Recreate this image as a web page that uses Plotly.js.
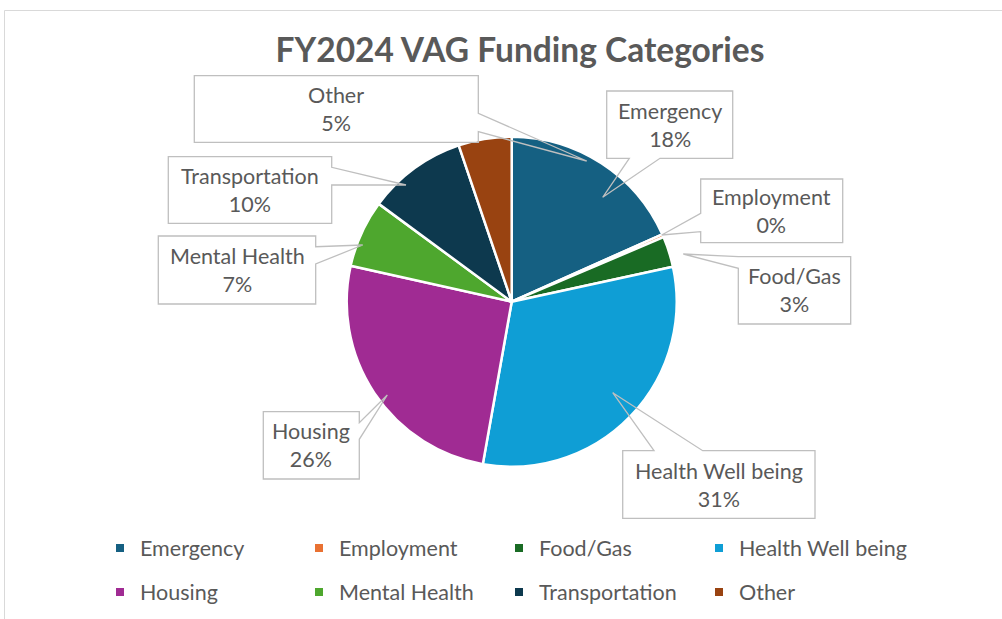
<!DOCTYPE html>
<html><head><meta charset="utf-8">
<script src="https://cdn.plot.ly/plotly-3.0.1.min.js"></script>
<style>html,body{margin:0;padding:0;background:#fff;}#chart{width:1002px;height:619px;}</style>
</head><body><div id="chart"></div>
<script>
// ---- data ----
const categories = ['Emergency', 'Employment', 'Food/Gas', 'Health Well being', 'Housing', 'Mental Health', 'Transportation', 'Other'];
const shares = [18.3, 0.3, 3.0, 31.2, 25.7, 6.6, 9.7, 5.2];
const chartTitle = 'FY2024 VAG Funding Categories';

// ---- styles / layout ----
const colors = ['#156082', '#E97132', '#196B24', '#0F9ED5', '#A02B93', '#4EA72E', '#0D394E', '#994311'];
const W = 1002, H = 619;
const FONT = 'Lato, "Open Sans", sans-serif';
const TXT = '#595959';
const FS = 21.5;
const pieCenter = [511.7, 301.7], pieR = 165;
// legend grid (pixels): text start of each column, centre of each row
const legendCols = [140, 339, 539, 739];
const legendRows = [548, 592];
// callout boxes in pixels: box [x0,y0,x1,y1], side of wedge, wedge base, tip
const callouts = [
  {box: [606.7, 91, 732.7, 158.3], side: 'bottom', base: [629.3, 660], tip: [602.7, 197.3]},
  {box: [700.7, 179, 842.7, 242.7], side: 'left', base: [213.3, 231.7], tip: [661.7, 235]},
  {box: [738.3, 256.7, 850.7, 324], side: 'left', base: [256.7, 268.3], tip: [683.3, 254]},
  {box: [622.7, 450.7, 815, 518.3], side: 'top', base: [654, 702.7], tip: [612.7, 392.7]},
  {box: [263.3, 411.7, 359.3, 479], side: 'right', base: [422.7, 439.3], tip: [387.3, 395]},
  {box: [158.3, 236, 315.7, 304], side: 'right', base: [246.7, 264], tip: [362.7, 245]},
  {box: [168.3, 156.7, 331.7, 223.3], side: 'right', base: [167.3, 185], tip: [406, 185]},
  {box: [194.3, 75.7, 478.3, 142.3], side: 'right', base: [113.3, 131.7], tip: [586.7, 161]}
];

const px = x => (x / W).toFixed(5);
const py = y => (1 - y / H).toFixed(5);
function pt(x, y) { return px(x) + ',' + py(y); }
function calloutPath(c) {
  const [x0, y0, x1, y1] = c.box, [b0, b1] = c.base, [tx, ty] = c.tip;
  let p;
  if (c.side === 'right') p = [[x0,y0],[x1,y0],[x1,b0],[tx,ty],[x1,b1],[x1,y1],[x0,y1]];
  else if (c.side === 'left') p = [[x0,y0],[x1,y0],[x1,y1],[x0,y1],[x0,b1],[tx,ty],[x0,b0]];
  else if (c.side === 'bottom') p = [[x0,y0],[x1,y0],[x1,y1],[b1,y1],[tx,ty],[b0,y1],[x0,y1]];
  else p = [[x0,y0],[b0,y0],[tx,ty],[b1,y0],[x1,y0],[x1,y1],[x0,y1]];
  return 'M' + p.map(q => pt(q[0], q[1])).join('L') + 'Z';
}

const total = shares.reduce((a, b) => a + b, 0);
const pctText = shares.map(v => Math.round(v / total * 100) + '%');

const pie = {
  type: 'pie',
  labels: categories,
  values: shares,
  sort: false,
  direction: 'clockwise',
  rotation: 0,
  textinfo: 'none',
  hovertemplate: '%{label}: %{percent}<extra></extra>',
  marker: {colors: colors, line: {color: '#ffffff', width: 2.5}},
  showlegend: false,
  domain: {
    x: [(pieCenter[0] - pieR) / W, (pieCenter[0] + pieR) / W],
    y: [1 - (pieCenter[1] + pieR) / H, 1 - (pieCenter[1] - pieR) / H]
  }
};

const legendId = i => (i === 0 ? 'legend' : 'legend' + (i + 1));

const legendTraces = categories.map((c, i) => ({
  type: 'scatter', mode: 'markers', x: [null], y: [null], name: c,
  marker: {symbol: 'square', size: 8, color: colors[i]},
  legend: legendId(i), hoverinfo: 'skip'
}));

const shapes = [{
  type: 'rect', xref: 'paper', yref: 'paper',
  x0: 4.5 / W, x1: 1.02, y0: -0.02, y1: 1 - 10.5 / H,
  line: {color: '#D9D9D9', width: 1}, fillcolor: 'rgba(0,0,0,0)', layer: 'below'
}].concat(callouts.map(c => ({
  type: 'path', xref: 'paper', yref: 'paper', path: calloutPath(c),
  line: {color: '#BFBFBF', width: 1.3}, fillcolor: 'rgba(0,0,0,0)', layer: 'above'
})));

const annotations = callouts.map((c, i) => ({
  xref: 'paper', yref: 'paper',
  x: (c.box[0] + c.box[2]) / 2 / W, y: 1 - (c.box[1] + c.box[3]) / 2 / H,
  xanchor: 'center', yanchor: 'middle', showarrow: false,
  text: categories[i] + '<br>' + pctText[i],
  font: {family: FONT, size: FS, color: TXT}
}));

const layout = {
  width: W, height: H,
  margin: {l: 0, r: 0, t: 0, b: 0},
  paper_bgcolor: '#ffffff', plot_bgcolor: 'rgba(0,0,0,0)',
  title: {
    text: '<b>' + chartTitle + '</b>', x: 520 / W, xanchor: 'center', xref: 'paper',
    y: 1 - 50 / H, yanchor: 'middle', yref: 'paper',
    font: {family: FONT, size: 33.5, color: TXT}
  },
  xaxis: {visible: false, domain: [0, 0.01]},
  yaxis: {visible: false, domain: [0, 0.01]},
  showlegend: true,
  shapes: shapes,
  annotations: annotations
};

categories.forEach((c, i) => {
  layout[legendId(i)] = {
    orientation: 'h', xanchor: 'left', yanchor: 'middle',
    x: (legendCols[i % 4] - 40) / W, y: 1 - legendRows[Math.floor(i / 4)] / H,
    bgcolor: 'rgba(0,0,0,0)',
    font: {family: FONT, size: FS, color: TXT}, itemclick: false, itemdoubleclick: false
  };
});

Plotly.newPlot('chart', [pie].concat(legendTraces), layout, {displayModeBar: false, staticPlot: false});
</script>
</body></html>
